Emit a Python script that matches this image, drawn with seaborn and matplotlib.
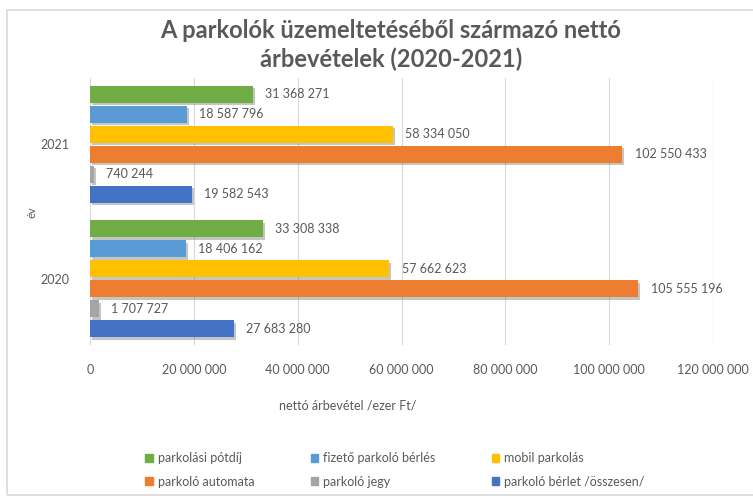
import numpy as np
import pandas as pd
import matplotlib
matplotlib.use("Agg")
import matplotlib.pyplot as plt
import matplotlib.patheffects as pe
from matplotlib.patches import Rectangle
import seaborn as sns

years = ["2021", "2020"]
series = ["parkolási pótdíj", "fizető parkoló bérlés", "mobil parkolás",
          "parkoló automata", "parkoló jegy", "parkoló bérlet /összesen/"]
vals_2021 = [31368271, 18587796, 58334050, 102550433, 740244, 19582543]
vals_2020 = [33308338, 18406162, 57662623, 105555196, 1707727, 27683280]
colors = ["#70AD47", "#5B9BD5", "#FFC000", "#ED7D31", "#A5A5A5", "#4472C4"]
xticks = [0, 20000000, 40000000, 60000000, 80000000, 100000000, 120000000]

rows = []
for y, vals in zip(years, [vals_2021, vals_2020]):
    for s, v in zip(series, vals):
        rows.append({"ev": y, "sor": s, "ertek": v})
df = pd.DataFrame(rows)

sns.set_theme(style="white")
plt.rcParams['font.family'] = ['Lato', 'DejaVu Sans']
txt = "#595959"

fig = plt.figure(figsize=(7.53, 4.99), dpi=100)
ax = fig.add_axes([90/753, 1-345/499, 623/753, 267/499])

sns.barplot(data=df, y="ev", x="ertek", hue="sor", order=years, hue_order=series,
            palette=colors, orient="h", width=0.89, gap=0.15, ax=ax, legend=False,
            saturation=1, errorbar=None, linewidth=0)

def fmt(v):
    return f"{v:,}".replace(",", " ")

for cont in ax.containers:
    for bar in cont:
        bar.set_path_effects([pe.SimplePatchShadow(offset=(1.5, -1.5), alpha=0.3, shadow_rgbFace="#404040"),
                              pe.Normal()])
    ax.bar_label(cont, labels=[fmt(int(round(b.get_width()))) for b in cont],
                 padding=9, fontsize=9, color=txt)

ax.set_xlim(0, 120000000)
ax.set_ylim(1.49, -0.49)
ax.set_xticks(xticks)
ax.set_xticklabels([fmt(t) for t in xticks], fontsize=9, color=txt)
ax.tick_params(axis="x", pad=14, length=0)
ax.tick_params(axis="y", pad=15, length=0, labelsize=9, labelcolor=txt)
ax.grid(axis="x", color="#D9D9D9", lw=0.8)
ax.set_axisbelow(True)
for sp in ax.spines.values():
    sp.set_visible(False)
ax.set_xlabel("")
ax.set_ylabel("év", fontsize=8, color=txt)
ax.yaxis.set_label_coords((37 - 90) / 623, (345 - 212) / 267)

fig.text(348/753, 1-405/499, "nettó árbevétel /ezer Ft/", ha="center", va="center",
         fontsize=9, color=txt)
fig.text(391/753, 1-45/499, "A parkolók üzemeltetéséből származó nettó\nárbevételek (2020-2021)",
         ha="center", va="center", fontsize=17, fontweight="bold", color=txt, linespacing=1.3)

# legend, row-major order like the original
handles = [Rectangle((0, 0), 1, 1, color=c) for c in colors]
order = [0, 3, 1, 4, 2, 5]
fig.legend([handles[i] for i in order], [series[i] for i in order], ncol=3,
           loc="center", bbox_to_anchor=(395/753, 1-470/499), frameon=False,
           fontsize=9, labelcolor=txt, handlelength=0.6, handleheight=0.6,
           handletextpad=0.4, columnspacing=4.5, labelspacing=0.9)

fig.patches.append(Rectangle((7/753, 4/499), 760/753, 485/499, transform=fig.transFigure,
                             fill=False, edgecolor="#D9D9D9", lw=1.2))

fig.savefig("out.png", dpi=100)
